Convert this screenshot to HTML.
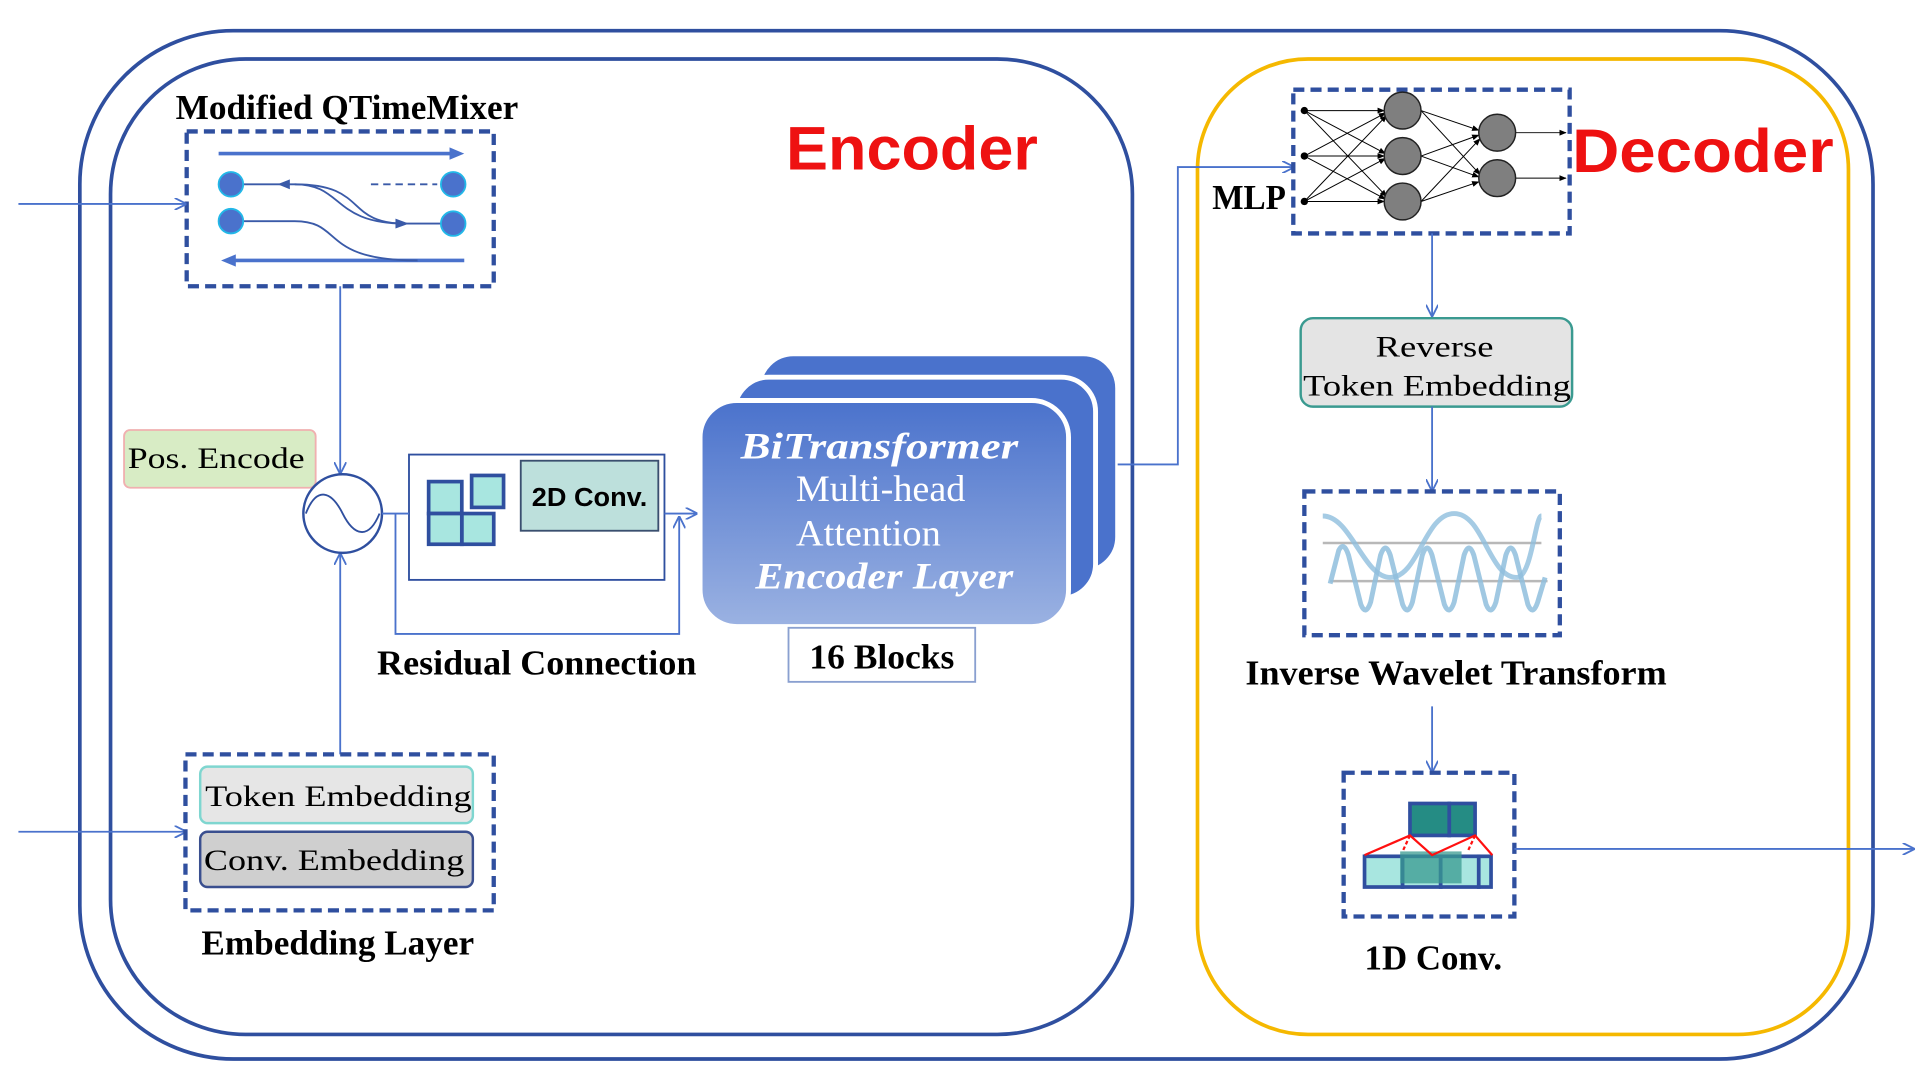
<!DOCTYPE html>
<html><head><meta charset="utf-8"><style>
html,body{margin:0;padding:0;background:#fff;}
svg{display:block;}
text{font-family:"Liberation Serif",serif;}
</style></head><body>
<svg width="1916" height="1075" viewBox="0 0 1560 875" preserveAspectRatio="none" xmlns="http://www.w3.org/2000/svg">
<defs>
<marker id="ar" viewBox="0 0 10 10" refX="9" refY="5" markerWidth="10" markerHeight="10" markerUnits="userSpaceOnUse" orient="auto"><path d="M0,0 L10,5 L0,10" fill="none" stroke="#4a72cc" stroke-width="1.5"/></marker>
<marker id="ak" viewBox="0 0 10 10" refX="9" refY="5" markerWidth="6" markerHeight="6" markerUnits="userSpaceOnUse" orient="auto"><path d="M0,1 L10,5 L0,9z" fill="#000"/></marker>
<linearGradient id="tg" x1="0" y1="0" x2="0" y2="1"><stop offset="0" stop-color="#4a72cc"/><stop offset="1" stop-color="#9bb2e2"/></linearGradient>
</defs>
<rect x="65" y="25" width="1460" height="837" rx="125" fill="none" stroke="#2f4f9f" stroke-width="3"/>
<rect x="90" y="48" width="832" height="794" rx="110" fill="none" stroke="#2f4f9f" stroke-width="3"/>
<rect x="975" y="48" width="530" height="794" rx="90" fill="none" stroke="#f5b800" stroke-width="3"/>
<text x="640" y="138" style="font-family:'Liberation Sans',sans-serif;font-weight:bold" font-size="50" fill="#ee1111" textLength="205" lengthAdjust="spacingAndGlyphs">Encoder</text>
<text x="1280" y="140" style="font-family:'Liberation Sans',sans-serif;font-weight:bold" font-size="50" fill="#ee1111" textLength="213" lengthAdjust="spacingAndGlyphs">Decoder</text>

<text x="143" y="97" font-weight="bold" font-size="28" textLength="279" lengthAdjust="spacingAndGlyphs">Modified QTimeMixer</text>
<rect x="152" y="107" width="250" height="126" fill="none" stroke="#2f4f9f" stroke-width="3.5" stroke-dasharray="9,5"/>
<line x1="178" y1="125" x2="368" y2="125" stroke="#4a72cc" stroke-width="3"/><path d="M366,120 L378,125 L366,130z" fill="#4a72cc"/>
<line x1="190" y1="212" x2="378" y2="212" stroke="#4a72cc" stroke-width="3"/><path d="M192,207 L180,212 L192,217z" fill="#4a72cc"/>
<path d="M188,150 L240,150 C280,150 270,182 330,182 L368,182" fill="none" stroke="#3a5aa8" stroke-width="1.5"/>
<path d="M240,150 C300,150 280,182 330,182" fill="none" stroke="#3a5aa8" stroke-width="1.5"/>
<path d="M236,146 L226,150 L236,154z" fill="#3a5aa8"/><path d="M322,178 L333,182 L322,186z" fill="#3a5aa8"/>
<path d="M188,180 L240,180 C280,180 260,212 340,212" fill="none" stroke="#3a5aa8" stroke-width="1.5"/>
<line x1="302" y1="150" x2="356" y2="150" stroke="#3a5aa8" stroke-width="1.5" stroke-dasharray="6,4"/>
<g fill="#4a72cc" stroke="#22b8e8" stroke-width="1.5"><circle cx="188" cy="150" r="10"/><circle cx="188" cy="180" r="10"/><circle cx="369" cy="150" r="10"/><circle cx="369" cy="182" r="10"/></g>
<line x1="15" y1="166" x2="151" y2="166" stroke="#4a72cc" stroke-width="1.5" marker-end="url(#ar)"/>
<line x1="15" y1="677" x2="151" y2="677" stroke="#4a72cc" stroke-width="1.5" marker-end="url(#ar)"/>
<line x1="277" y1="233" x2="277" y2="385" stroke="#4a72cc" stroke-width="1.5" marker-end="url(#ar)"/>
<line x1="277" y1="614" x2="277" y2="451" stroke="#4a72cc" stroke-width="1.5" marker-end="url(#ar)"/>

<rect x="101" y="350" width="156" height="47" rx="5" fill="#d8ecc5" stroke="#f0b0b0" stroke-width="1.5"/>
<text x="104" y="381" font-size="24" textLength="144" lengthAdjust="spacingAndGlyphs">Pos. Encode</text>
<circle cx="279" cy="418" r="32" fill="#fff" stroke="#2f4f9f" stroke-width="2"/>
<path d="M249,418 C258,395 270,400 279,418 C288,436 300,440 309,418" fill="none" stroke="#2f4f9f" stroke-width="1.5"/>

<rect x="151" y="614" width="251" height="127" fill="none" stroke="#2f4f9f" stroke-width="3.5" stroke-dasharray="9,5"/>
<rect x="163" y="624" width="222" height="46" rx="6" fill="#e6e6e6" stroke="#7fd6d0" stroke-width="2"/>
<text x="167" y="656" font-size="24" textLength="217" lengthAdjust="spacingAndGlyphs">Token Embedding</text>
<rect x="163" y="677" width="222" height="45" rx="6" fill="#cfcfcf" stroke="#3a4f8f" stroke-width="2"/>
<text x="166" y="708" font-size="24" textLength="212" lengthAdjust="spacingAndGlyphs">Conv. Embedding</text>
<text x="164" y="777" font-weight="bold" font-size="28" textLength="222" lengthAdjust="spacingAndGlyphs">Embedding Layer</text>

<rect x="333" y="370" width="208" height="102" fill="#fff" stroke="#2f4f9f" stroke-width="1.5"/>
<rect x="424" y="375" width="112" height="57" fill="#bde0dc" stroke="#3a4f6f" stroke-width="1.5"/>
<text x="433" y="412" style="font-family:'Liberation Sans',sans-serif;font-weight:bold" font-size="21" textLength="94" lengthAdjust="spacingAndGlyphs">2D Conv.</text>
<g fill="#a8e6e0" stroke="#2f4f9f" stroke-width="3"><rect x="349" y="392" width="27" height="26"/><rect x="376" y="418" width="26" height="25"/><rect x="349" y="418" width="27" height="25"/><rect x="384" y="387" width="26" height="26"/></g>
<line x1="311" y1="418" x2="333" y2="418" stroke="#4a72cc" stroke-width="1.5"/>
<line x1="541" y1="418" x2="567" y2="418" stroke="#4a72cc" stroke-width="1.5" marker-end="url(#ar)"/>
<polyline points="322,418 322,516 553,516 553,421" fill="none" stroke="#4a72cc" stroke-width="1.5" marker-end="url(#ar)"/>
<text x="307" y="549" font-weight="bold" font-size="28" textLength="260" lengthAdjust="spacingAndGlyphs">Residual Connection</text>

<rect x="618" y="288" width="292" height="177" rx="28" fill="#4a72cc" stroke="#fff" stroke-width="4"/>
<rect x="598" y="307" width="294" height="180" rx="28" fill="#4a72cc" stroke="#fff" stroke-width="4"/>
<rect x="570" y="326" width="300" height="184" rx="30" fill="url(#tg)" stroke="#fff" stroke-width="4"/>
<g fill="#fff" font-size="30" text-anchor="middle">
<text x="716" y="373" font-style="italic" font-weight="bold" textLength="226" lengthAdjust="spacingAndGlyphs">BiTransformer</text>
<text x="717" y="408" textLength="138" lengthAdjust="spacingAndGlyphs">Multi-head</text>
<text x="707" y="444" textLength="118" lengthAdjust="spacingAndGlyphs">Attention</text>
<text x="720" y="479" font-style="italic" font-weight="bold" textLength="210" lengthAdjust="spacingAndGlyphs">Encoder Layer</text>
</g>
<rect x="642" y="511" width="152" height="44" fill="#fff" stroke="#8aa0d0" stroke-width="1.5"/>
<text x="718" y="544" text-anchor="middle" font-weight="bold" font-size="28" textLength="118" lengthAdjust="spacingAndGlyphs">16 Blocks</text>
<polyline points="910,378 959,378 959,136 1053,136" fill="none" stroke="#4a72cc" stroke-width="1.5" marker-end="url(#ar)"/>

<rect x="1053" y="73" width="225" height="117" fill="none" stroke="#2f4f9f" stroke-width="3.5" stroke-dasharray="9,5"/>
<text x="987" y="170" font-weight="bold" font-size="28" textLength="60" lengthAdjust="spacingAndGlyphs">MLP</text>
<g stroke="#000" stroke-width="0.8" marker-end="url(#ak)">
<line x1="1062" y1="90" x2="1127" y2="90"/><line x1="1062" y1="90" x2="1128" y2="125"/><line x1="1062" y1="90" x2="1129" y2="160"/>
<line x1="1062" y1="127" x2="1128" y2="92"/><line x1="1062" y1="127" x2="1127" y2="127"/><line x1="1062" y1="127" x2="1128" y2="162"/>
<line x1="1062" y1="164" x2="1129" y2="94"/><line x1="1062" y1="164" x2="1128" y2="129"/><line x1="1062" y1="164" x2="1127" y2="164"/>
<line x1="1157" y1="90" x2="1204" y2="106"/><line x1="1157" y1="90" x2="1205" y2="142"/>
<line x1="1157" y1="127" x2="1204" y2="110"/><line x1="1157" y1="127" x2="1204" y2="144"/>
<line x1="1157" y1="164" x2="1205" y2="113"/><line x1="1157" y1="164" x2="1204" y2="148"/>
<line x1="1234" y1="108" x2="1275" y2="108"/><line x1="1234" y1="145" x2="1275" y2="145"/>
</g>
<g fill="#000"><circle cx="1062" cy="90" r="3"/><circle cx="1062" cy="127" r="3"/><circle cx="1062" cy="164" r="3"/></g>
<g fill="#7f7f7f" stroke="#222" stroke-width="1.2"><circle cx="1142" cy="90" r="15"/><circle cx="1142" cy="127" r="15"/><circle cx="1142" cy="164" r="15"/><circle cx="1219" cy="108" r="15"/><circle cx="1219" cy="145" r="15"/></g>

<line x1="1166" y1="190" x2="1166" y2="257" stroke="#4a72cc" stroke-width="1.5" marker-end="url(#ar)"/>
<rect x="1059" y="259" width="221" height="72" rx="10" fill="#e4e4e4" stroke="#3a9a90" stroke-width="2"/>
<text x="1168" y="290" text-anchor="middle" font-size="24" textLength="96" lengthAdjust="spacingAndGlyphs">Reverse</text>
<text x="1170" y="322" text-anchor="middle" font-size="24" textLength="218" lengthAdjust="spacingAndGlyphs">Token Embedding</text>
<line x1="1166" y1="331" x2="1166" y2="399" stroke="#4a72cc" stroke-width="1.5" marker-end="url(#ar)"/>

<rect x="1062" y="400" width="208" height="117" fill="none" stroke="#2f4f9f" stroke-width="3.5" stroke-dasharray="9,5"/>
<line x1="1077" y1="442" x2="1255" y2="442" stroke="#b8b8b8" stroke-width="2"/>
<line x1="1083" y1="473" x2="1260" y2="473" stroke="#b8b8b8" stroke-width="2"/>
<path d="M1077,420 C1100,420 1110,470 1132,470 C1155,470 1160,418 1184,418 C1208,418 1212,470 1235,470 C1247,470 1250,420 1255,420" fill="none" stroke="#8fbedd" stroke-width="4" opacity="0.8"/>
<path d="M1083,475 L1090,448 Q1094,440 1098,452 L1108,492 Q1112,502 1116,490 L1124,452 Q1128,440 1132,452 L1142,492 Q1146,502 1150,490 L1158,452 Q1162,440 1166,452 L1176,492 Q1180,502 1184,490 L1192,452 Q1196,440 1200,452 L1210,492 Q1214,502 1218,490 L1226,452 Q1230,440 1234,452 L1244,492 Q1248,502 1252,490 L1258,470" fill="none" stroke="#8fbedd" stroke-width="4" opacity="0.85"/>
<text x="1014" y="557" font-weight="bold" font-size="28" textLength="343" lengthAdjust="spacingAndGlyphs">Inverse Wavelet Transform</text>
<line x1="1166" y1="575" x2="1166" y2="628" stroke="#4a72cc" stroke-width="1.5" marker-end="url(#ar)"/>

<rect x="1094" y="629" width="139" height="117" fill="none" stroke="#2f4f9f" stroke-width="3.5" stroke-dasharray="9,5"/>
<g stroke="#2f4f9f" stroke-width="3"><rect x="1148" y="654" width="32" height="26" fill="#258c84"/><rect x="1180" y="654" width="21" height="26" fill="#258c84"/></g>
<g stroke="#2f4f9f" stroke-width="3" fill="#a8e6e0"><rect x="1111" y="697" width="31" height="25"/><rect x="1142" y="697" width="31" height="25"/><rect x="1173" y="697" width="31" height="25"/><rect x="1204" y="697" width="10" height="25"/></g>
<rect x="1140" y="693" width="50" height="26" fill="#3a9a90" opacity="0.75"/>
<g stroke="#ff1010" stroke-width="1.8" fill="none"><polyline points="1111,696 1148,680 1166,696 1201,680 1215,696"/><line x1="1148" y1="680" x2="1142" y2="693" stroke-dasharray="3,2"/><line x1="1201" y1="680" x2="1195" y2="693" stroke-dasharray="3,2"/></g>
<text x="1167" y="789" text-anchor="middle" font-weight="bold" font-size="28" textLength="112" lengthAdjust="spacingAndGlyphs">1D Conv.</text>
<line x1="1233" y1="691" x2="1558" y2="691" stroke="#4a72cc" stroke-width="1.5" marker-end="url(#ar)"/>
</svg>
</body></html>
